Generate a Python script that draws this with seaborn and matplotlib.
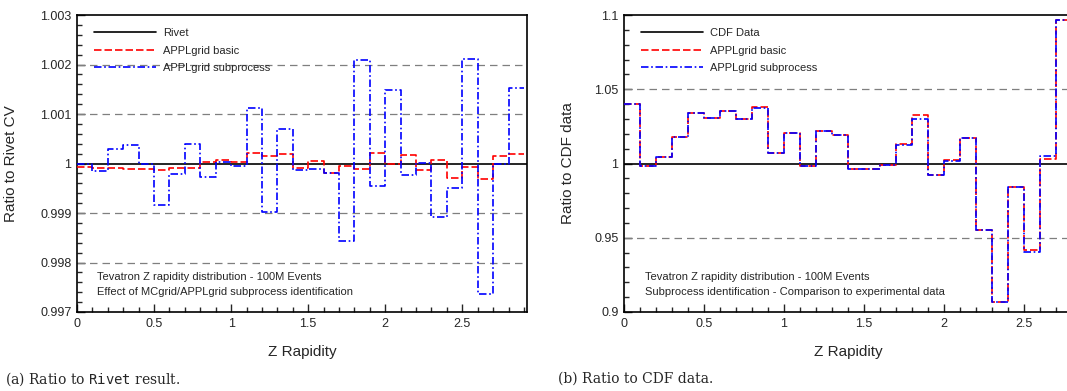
import numpy as np
import pandas as pd
import matplotlib
matplotlib.use('Agg')
import matplotlib.pyplot as plt
import seaborn as sns
from matplotlib import font_manager
from matplotlib.ticker import MultipleLocator, FormatStrFormatter

sns.set_style('ticks')

# pick a narrow sans font if one is installed
names = {f.name for f in font_manager.fontManager.ttflist}
narrow = next((n for n in ['Liberation Sans Narrow', 'DejaVu Sans Condensed', 'Liberation Sans', 'DejaVu Sans']
               if n in names), 'DejaVu Sans')
plt.rcParams['font.family'] = [narrow, 'DejaVu Sans']
plt.rcParams['mathtext.fontset'] = 'dejavuserif'

# ---- data: Z rapidity bins of width 0.1 ----
bin_edges = np.round(np.linspace(0.0, 2.9, 30), 2)

# (a) ratio to Rivet
rivet_basic = [0.99993, 0.99990, 0.99990, 0.99989, 0.99989, 0.99987, 0.99990, 0.99990, 1.00003, 1.00008,
               1.00003, 1.00022, 1.00015, 1.00020, 0.99991, 1.00005, 0.99980, 0.99995, 0.99988, 1.00022,
               1.00000, 1.00018, 0.99987, 1.00008, 0.99970, 0.99993, 0.99968, 1.00016, 1.00020]
rivet_subproc = [1.00000, 0.99985, 1.00030, 1.00038, 0.99998, 0.99917, 0.99978, 1.00039, 0.99972, 1.00003,
                 0.99995, 1.00112, 0.99902, 1.00069, 0.99987, 0.99989, 0.99980, 0.99843, 1.00209, 0.99954,
                 1.00149, 0.99976, 1.00001, 0.99892, 0.99950, 1.00211, 0.99737, 1.00000, 1.00153]

# (b) ratio to CDF data (last visible bin ends at 2.8)
cdf_basic = [1.0399, 0.9985, 1.0045, 1.0179, 1.0340, 1.0305, 1.0352, 1.0302, 1.0378, 1.0069,
             1.0208, 0.9986, 1.0220, 1.0192, 0.9966, 0.9962, 0.9989, 1.0128, 1.0325, 0.9925,
             1.0022, 1.0175, 0.9554, 0.9066, 0.9839, 0.9416, 1.0028, 1.0965]
cdf_subproc = [1.0399, 0.9984, 1.0045, 1.0179, 1.0340, 1.0307, 1.0352, 1.0302, 1.0376, 1.0069,
               1.0208, 0.9982, 1.0217, 1.0190, 0.9966, 0.9960, 0.9989, 1.0123, 1.0300, 0.9922,
               1.0018, 1.0175, 0.9554, 0.9066, 0.9839, 0.9402, 1.0052, 1.0965]

W, H = 1067, 391
fig = plt.figure(figsize=(W / 100, H / 100), dpi=100)
ax_a = fig.add_axes([77 / W, 1 - 312 / H, 450 / W, 297 / H])
ax_b = fig.add_axes([624 / W, 1 - 312 / H, 467 / W, 297 / H])

red_dash = (0, (4.5, 1.8))
blue_dashdot = (0, (4.5, 1.6, 1.0, 1.6))


def step_df(values):
    n = len(values)
    return pd.DataFrame({'x': bin_edges[:n + 1], 'y': list(values) + [values[-1]]})


def draw_panel(ax, ref_label, basic, subproc, ylim, major, minor, fmt, grid_vals,
               ylabel, note, label_x, xlabel_x):
    for g in grid_vals:
        ax.axhline(g, color='#7f7f7f', lw=0.9, ls=(0, (6, 4)), zorder=1)
    ax.axhline(1.0, color='black', lw=1.2, label=ref_label, zorder=2)
    sns.lineplot(data=step_df(basic), x='x', y='y', ax=ax, drawstyle='steps-post',
                 color='#ff0000', lw=1.2, ls=red_dash, label='APPLgrid basic', zorder=3)
    sns.lineplot(data=step_df(subproc), x='x', y='y', ax=ax, drawstyle='steps-post',
                 color='#0000ff', lw=1.2, ls=blue_dashdot, label='APPLgrid subprocess', zorder=4)

    ax.set_xlim(0, 2.92)
    ax.set_ylim(*ylim)
    ax.xaxis.set_major_locator(MultipleLocator(0.5))
    ax.xaxis.set_minor_locator(MultipleLocator(0.1))
    ax.yaxis.set_major_locator(MultipleLocator(major))
    ax.yaxis.set_minor_locator(MultipleLocator(minor))
    ax.yaxis.set_major_formatter(FormatStrFormatter(fmt))
    ax.xaxis.set_major_formatter(FormatStrFormatter('%g'))
    ax.tick_params(which='both', direction='in', top=False, right=False,
                   labelsize=9, width=1.0, pad=4)
    ax.tick_params(which='major', length=6)
    ax.tick_params(which='minor', length=3.5)
    for s in ax.spines.values():
        s.set_linewidth(1.2)
        s.set_color('black')

    ax.set_xlabel('Z Rapidity', fontsize=11)
    ax.set_ylabel(ylabel, fontsize=11)
    ax.xaxis.set_label_coords(xlabel_x, -0.111)
    ax.yaxis.set_label_coords(label_x, 0.5)

    ax.text(0.044, 0.118, note[0], transform=ax.transAxes, fontsize=8, va='center')
    ax.text(0.044, 0.067, note[1], transform=ax.transAxes, fontsize=8, va='center')

    leg = ax.legend(loc='upper left', bbox_to_anchor=(0.015, 0.99), frameon=False,
                    fontsize=8, handlelength=5.6, handletextpad=0.6, labelspacing=0.68)
    return leg


draw_panel(ax_a, 'Rivet', rivet_basic, rivet_subproc, (0.997, 1.003), 0.001, 0.0002,
           '%g', [0.998, 0.999, 1.001, 1.002], 'Ratio to Rivet CV',
           ['Tevatron Z rapidity distribution - 100M Events',
            'Effect of MCgrid/APPLgrid subprocess identification'],
           -0.131, 0.5)
draw_panel(ax_b, 'CDF Data', cdf_basic, cdf_subproc, (0.9, 1.1), 0.05, 0.01,
           '%g', [0.95, 1.05], 'Ratio to CDF data',
           ['Tevatron Z rapidity distribution - 100M Events',
            'Subprocess identification - Comparison to experimental data'],
           -0.105, 0.48)

fig.text(5 / W, 1 - 379 / H, '(a) Ratio to $\\mathtt{Rivet}$ result.', family='DejaVu Serif',
         fontsize=10, va='center', ha='left')
fig.text(558 / W, 1 - 379 / H, '(b) Ratio to CDF data.', family='DejaVu Serif',
         fontsize=10, va='center', ha='left')

fig.savefig('out.png', dpi=100)
